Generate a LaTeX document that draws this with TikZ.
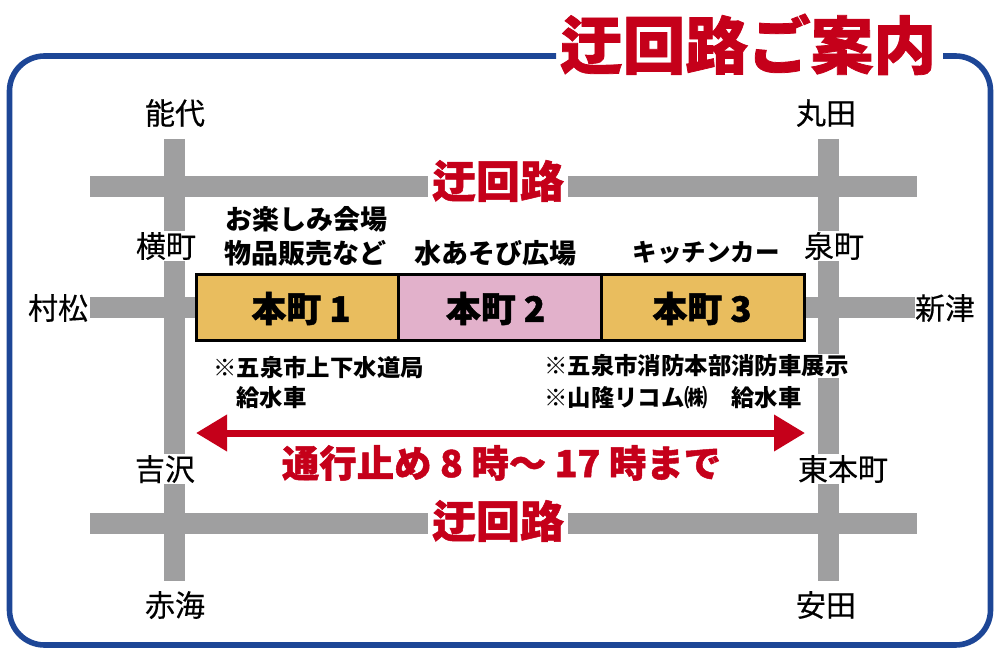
\documentclass[tikz,border=0pt]{standalone}
\usepackage{fontspec}
\usepackage{xcolor}
\setmainfont{Noto Sans CJK JP}
\newfontfamily\heavyfont{Noto Sans CJK JP}[BoldFeatures={FakeBold=1.2}]
\newfontfamily\placefont{Noto Sans CJK JP}[FakeBold=0.3]
\usetikzlibrary{arrows.meta}
\definecolor{framecol}{HTML}{1D4696}
\definecolor{roadcol}{HTML}{9F9FA0}
\definecolor{redcol}{HTML}{C5001A}
\definecolor{goldcol}{HTML}{E9BD5E}
\definecolor{pinkcol}{HTML}{E2B1CB}

\begin{document}
\begin{tikzpicture}[x=1pt,y=-1pt,
    emtext/.style={inner sep=0pt,text height=0.88*#1 pt,text depth=0.12*#1 pt},
    place/.style={emtext=30,fill=white,inner xsep=0.5pt,font=\fontsize{30}{32}\selectfont\placefont},
    event/.style={emtext=27,font=\fontsize{27}{30}\selectfont\bfseries},
    note/.style={emtext=23.4,anchor=west,font=\fontsize{23.4}{26}\selectfont\bfseries},
    section/.style={draw=black,line width=3pt,minimum width=203pt,minimum height=66.5pt,inner sep=0pt},
    sectlabel/.style={emtext=35,font=\fontsize{35}{38}\selectfont\heavyfont\bfseries},
    detour/.style={emtext=44,fill=white,inner xsep=4pt,text=redcol,font=\fontsize{44}{48}\selectfont\heavyfont\bfseries},
    road/.style={draw=roadcol,line width=21pt}]
    \useasboundingbox (0,0) rectangle (1000,660);

    \coordinate (frameL) at (556,56);
    \coordinate (frameR) at (943,56);
    \draw [framecol, line width=5.6pt, rounded corners=35pt]
      (frameL) -- (9.5,56) -- (9.5,645) -- (990.5,645) -- (990.5,56) -- (frameR);
    \node [emtext=62.7, text=redcol, font=\fontsize{62.7}{66}\selectfont\heavyfont\bfseries] (title) at (748,45) {迂回路ご案内};

    \coordinate (roadTL) at (174.5,139);
    \coordinate (roadBL) at (174.5,581);
    \coordinate (roadTR) at (828.5,139);
    \coordinate (roadBR) at (828.5,581);
    \coordinate (roadNW) at (90,186.5);
    \coordinate (roadNE) at (917,186.5);
    \coordinate (roadMW) at (90,307.5);
    \coordinate (roadME) at (917,307.5);
    \coordinate (roadSW) at (90,523.5);
    \coordinate (roadSE) at (917,523.5);
    \draw [road] (roadTL) -- (roadBL);
    \draw [road] (roadTR) -- (roadBR);
    \draw [road] (roadNW) -- (roadNE);
    \draw [road] (roadMW) -- (roadME);
    \draw [road] (roadSW) -- (roadSE);

    \node [detour] (detourN) at (498,181) {迂回路};
    \node [detour] (detourS) at (498,521) {迂回路};

    \node [place] (noshiro) at (175,113) {能代};
    \node [place] (maruta) at (826,113) {丸田};
    \node [place] (yokomachi) at (166,246) {横町};
    \node [place] (izumimachi) at (834,246) {泉町};
    \node [place] (muramatsu) at (58,308) {村松};
    \node [place] (niitsu) at (945,308) {新津};
    \node [place] (yoshizawa) at (165,469) {吉沢};
    \node [place] (higashi) at (843,469) {東本町};
    \node [place] (akami) at (175,605) {赤海};
    \node [place] (yasuda) at (826,605) {安田};

    \node [section, fill=goldcol] (sect1) at (297.5,307.5) {};
    \node [section, fill=pinkcol] (sect2) at (500,307.5) {};
    \node [section, fill=goldcol] (sect3) at (703,307.5) {};
    \node [sectlabel] (sect1label) at (301,308.5) {本町 1};
    \node [sectlabel] (sect2label) at (495.5,308.5) {本町 2};
    \node [sectlabel] (sect3label) at (702,308.5) {本町 3};

    \node [event] (event1a) at (306,219) {お楽しみ会場};
    \node [event] (event1b) at (305,253) {物品販売など};
    \node [event] (event2) at (495,253) {水あそび広場};
    \node [emtext=24.5, font=\fontsize{24.5}{28}\selectfont\bfseries] (event3) at (706,252) {キッチンカー};

    \node [note] (note1a) at (213,368) {※五泉市上下水道局};
    \node [note] (note1b) at (236,398) {給水車};
    \node [note, fill=white] (note2a) at (544,366) {※五泉市消防本部消防車展示};
    \node [note] (note2b) at (544,398) {※山隆リコム㈱　給水車};

    \coordinate (closedL) at (196,433);
    \coordinate (closedR) at (805,433);
    \draw [{Triangle[length=31pt,width=35pt]}-{Triangle[length=31pt,width=35pt]}, redcol, line width=7pt] (closedL) -- (closedR);
    \node [emtext=37.4, text=redcol, font=\fontsize{37.4}{40}\selectfont\heavyfont\bfseries] (closed) at (501.5,463) {通行止め 8 時〜 17 時まで};
  \end{tikzpicture}
\end{document}
